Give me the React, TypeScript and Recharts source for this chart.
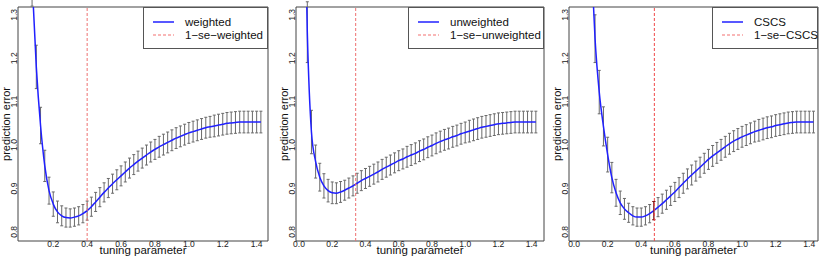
import React from 'react'
import {
  ComposedChart, Line, Scatter, XAxis, YAxis, ErrorBar, ReferenceLine, ReferenceArea, Legend,
} from 'recharts'

// tuning parameter grid shared by the three panels
const LAMBDA = [
  0.025, 0.05, 0.075, 0.1, 0.125, 0.15, 0.175, 0.2, 0.225, 0.25,
  0.275, 0.3, 0.325, 0.35, 0.375, 0.4, 0.425, 0.45, 0.475, 0.5,
  0.525, 0.55, 0.575, 0.6, 0.625, 0.65, 0.675, 0.7, 0.725, 0.75,
  0.775, 0.8, 0.825, 0.85, 0.875, 0.9, 0.925, 0.95, 0.975, 1,
  1.025, 1.05, 1.075, 1.1, 1.125, 1.15, 1.175, 1.2, 1.225, 1.25,
  1.275, 1.3, 1.325, 1.35, 1.375, 1.4, 1.425,
]

// mean prediction error per lambda
const WEIGHTED = [
  null, null, 1.38, 1.18, 1.045, 0.952, 0.895, 0.864, 0.846, 0.837,
  0.833, 0.832, 0.834, 0.837, 0.842, 0.849, 0.858, 0.869, 0.88, 0.891,
  0.901, 0.911, 0.92, 0.929, 0.938, 0.947, 0.955, 0.963, 0.97, 0.977,
  0.984, 0.99, 0.996, 1.001, 1.006, 1.011, 1.016, 1.02, 1.024, 1.028,
  1.031, 1.034, 1.037, 1.04, 1.042, 1.044, 1.046, 1.048, 1.05, 1.051,
  1.052, 1.053, 1.053, 1.053, 1.053, 1.053, 1.053,
]
const UNWEIGHTED = [
  1.75, 1.26, 1.03, 0.962, 0.926, 0.906, 0.895, 0.89, 0.889, 0.892,
  0.896, 0.901, 0.906, 0.912, 0.918, 0.923, 0.928, 0.933, 0.938, 0.944,
  0.949, 0.954, 0.959, 0.964, 0.968, 0.973, 0.977, 0.981, 0.986, 0.99,
  0.995, 0.999, 1.004, 1.008, 1.012, 1.015, 1.019, 1.022, 1.026, 1.029,
  1.032, 1.035, 1.038, 1.041, 1.043, 1.045, 1.047, 1.049, 1.05, 1.051,
  1.052, 1.053, 1.053, 1.053, 1.053, 1.053, 1.053,
]
const CSCS = [
  null, null, null, 1.45, 1.245, 1.122, 1.043, 0.978, 0.925, 0.89,
  0.867, 0.853, 0.844, 0.837, 0.834, 0.834, 0.837, 0.842, 0.849, 0.857,
  0.865, 0.874, 0.883, 0.892, 0.902, 0.912, 0.922, 0.931, 0.94, 0.949,
  0.958, 0.967, 0.975, 0.982, 0.989, 0.996, 1.003, 1.009, 1.014, 1.019,
  1.023, 1.027, 1.031, 1.034, 1.037, 1.04, 1.042, 1.045, 1.047, 1.049,
  1.051, 1.052, 1.053, 1.053, 1.053, 1.053, 1.053,
]

// standard error (half bar height) per lambda
const W_ERR = [
  null, null, 0.06, 0.05, 0.042, 0.036, 0.031, 0.028, 0.025, 0.023,
  0.022, 0.021, 0.021, 0.021, 0.021, 0.022, 0.022, 0.022, 0.022, 0.022,
  0.022, 0.022, 0.023, 0.023, 0.023, 0.023, 0.023, 0.023, 0.023, 0.023,
  0.023, 0.023, 0.024, 0.024, 0.024, 0.024, 0.024, 0.024, 0.024, 0.024,
  0.024, 0.024, 0.024, 0.024, 0.024, 0.025, 0.025, 0.025, 0.025, 0.025,
  0.025, 0.025, 0.025, 0.025, 0.025, 0.025, 0.025,
]
const U_ERR = [
  0.09, 0.07, 0.05, 0.038, 0.032, 0.028, 0.026, 0.025, 0.024, 0.024,
  0.023, 0.023, 0.023, 0.023, 0.023, 0.023, 0.023, 0.023, 0.023, 0.023,
  0.023, 0.023, 0.023, 0.023, 0.023, 0.024, 0.024, 0.024, 0.024, 0.024,
  0.024, 0.024, 0.024, 0.024, 0.024, 0.024, 0.024, 0.024, 0.024, 0.024,
  0.025, 0.025, 0.025, 0.025, 0.025, 0.025, 0.025, 0.025, 0.025, 0.025,
  0.025, 0.025, 0.025, 0.025, 0.025, 0.025, 0.025,
]
const C_ERR = [
  null, null, null, 0.06, 0.055, 0.05, 0.045, 0.04, 0.035, 0.031,
  0.027, 0.024, 0.022, 0.021, 0.021, 0.021, 0.021, 0.021, 0.021, 0.022,
  0.022, 0.022, 0.022, 0.022, 0.023, 0.023, 0.023, 0.023, 0.023, 0.023,
  0.023, 0.023, 0.024, 0.024, 0.024, 0.024, 0.024, 0.024, 0.024, 0.024,
  0.024, 0.024, 0.024, 0.025, 0.025, 0.025, 0.025, 0.025, 0.025, 0.025,
  0.025, 0.025, 0.025, 0.025, 0.025, 0.025, 0.025,
]

// lambda chosen by the 1-se rule
const ONE_SE = [0.4, 0.341, 0.478]
const SELECTED_CSCS = { x: 0.475, y: 0.849, err: 0.021 }

const Y_TICKS = [0.8, 0.9, 1.0, 1.1, 1.2, 1.3]
const X_TICKS_FIRST = [0.2, 0.4, 0.6, 0.8, 1.0, 1.2, 1.4]
const X_TICKS = [0, 0.2, 0.4, 0.6, 0.8, 1.0, 1.2, 1.4]

const FONT = '"Liberation Sans", Arial, Helvetica, sans-serif'
const Y_DOMAIN: [number, number] = [0.779, 1.318]

const PANELS = [
  {
    name: 'weighted', values: WEIGHTED, errs: W_ERR, oneSe: ONE_SE[0], ticks: X_TICKS_FIRST,
    domain: [-0.008, 1.467], left: 0, width: 276, margin: { top: 7, right: 8, bottom: 18, left: 17 },
    legendLeft: 143, legendWidth: 125, vline: '#ee7070',
  },
  {
    name: 'unweighted', values: UNWEIGHTED, errs: U_ERR, oneSe: ONE_SE[1], ticks: X_TICKS,
    domain: [-0.018, 1.474], left: 270, width: 282, margin: { top: 7, right: 8, bottom: 18, left: 25 },
    legendLeft: 138, legendWidth: 136, vline: '#ee7070',
  },
  {
    name: 'CSCS', values: CSCS, errs: C_ERR, oneSe: ONE_SE[2], ticks: X_TICKS,
    domain: [-0.03, 1.452], left: 546, width: 284, margin: { top: 7, right: 12, bottom: 18, left: 22 },
    legendLeft: 166, legendWidth: 106, vline: '#f04848',
  },
]

const XTick = ({ x, y, payload }: any) => (
  <text x={x} y={y + 6} textAnchor="middle" fontSize={8.5} fill="#222" fontFamily={FONT}>
    {Number(payload.value).toFixed(1)}
  </text>
)

const YTick = ({ x, y, payload }: any) => (
  <text transform={`translate(${x - 1},${y}) rotate(-90)`} textAnchor="middle" fontSize={8.5}
    fill="#222" fontFamily={FONT}>
    {Number(payload.value).toFixed(1)}
  </text>
)

const LegendBox = ({ name, width }: { name: string; width: number }) => (
  <svg width={width} height={42} style={{ display: 'block' }}>
    <rect x={0.5} y={0.5} width={width - 1} height={41} fill="#fff" stroke="#555" />
    <line x1={10} x2={31} y1={15} y2={15} stroke="#2020ff" strokeWidth={1.5} />
    <line x1={10} x2={31} y1={28} y2={28} stroke="#f7a0a0" strokeWidth={1.5} strokeDasharray="3 2" />
    <text x={42} y={19} fontSize={11.5} fill="#111" fontFamily={FONT}>{name}</text>
    <text x={42} y={32} fontSize={11.5} fill="#111" fontFamily={FONT}>{`1\u2212se\u2212${name}`}</text>
  </svg>
)

function Panel({ p, idx }: { p: typeof PANELS[number]; idx: number }) {
  const data = LAMBDA
    .map((x, i) => ({ x, y: p.values[i], err: p.errs[i] }))
    .filter(d => d.y != null)

  return (
    <div style={{ position: 'absolute', left: p.left, top: 0 }}>
      <ComposedChart width={p.width} height={260} data={data} margin={p.margin}>
        <XAxis type="number" dataKey="x" domain={p.domain} ticks={p.ticks} interval={0}
          height={1} tickSize={0} tickMargin={0} axisLine={false} tickLine={false} tick={<XTick />}
          allowDataOverflow
          label={({ viewBox }: any) => (
            <text x={viewBox.x + viewBox.width / 2} y={254} textAnchor="middle" fontSize={11.5}
              fill="#111" fontFamily={FONT}>tuning parameter</text>
          )} />
        <YAxis type="number" domain={Y_DOMAIN} ticks={Y_TICKS} interval={0} width={1}
          tickSize={0} tickMargin={0} axisLine={false} tickLine={false} tick={<YTick />}
          allowDataOverflow
          label={({ viewBox }: any) => (
            <text transform={`translate(${viewBox.x - 7.5},${viewBox.y + viewBox.height / 2}) rotate(-90)`}
              textAnchor="middle" fontSize={11} fill="#111" fontFamily={FONT}>prediction error</text>
          )} />
        <ReferenceArea x1={p.domain[0]} x2={p.domain[1]} y1={Y_DOMAIN[0]} y2={Y_DOMAIN[1]}
          fill="none" stroke="#444" strokeWidth={1} ifOverflow="visible" />
        <Line dataKey="y" type="monotone" stroke="#2020ff" strokeWidth={1.5} dot={false}
          isAnimationActive={false}>
          <ErrorBar dataKey="err" width={1.5} stroke="#6a6a6a" strokeWidth={1} direction="y" />
        </Line>
        {idx === 2 && (
          <Scatter data={[SELECTED_CSCS]} dataKey="y" shape={() => <g />} isAnimationActive={false}>
            <ErrorBar dataKey="err" width={1.5} stroke="#8b1010" strokeWidth={1} direction="y" />
          </Scatter>
        )}
        <ReferenceLine x={p.oneSe} stroke={p.vline} strokeDasharray="3 2" strokeWidth={1} />
        <Legend layout="vertical" align="center" verticalAlign="middle"
          wrapperStyle={{ left: p.legendLeft, top: 7, width: p.legendWidth, height: 42 }}
          content={() => <LegendBox name={p.name} width={p.legendWidth} />} />
      </ComposedChart>
    </div>
  )
}

export default function App() {
  return (
    <div style={{ position: 'absolute', left: 0, top: 0, width: 830, height: 260, background: '#fff' }}>
      {PANELS.map((p, i) => <Panel key={p.name} p={p} idx={i} />)}
    </div>
  )
}
